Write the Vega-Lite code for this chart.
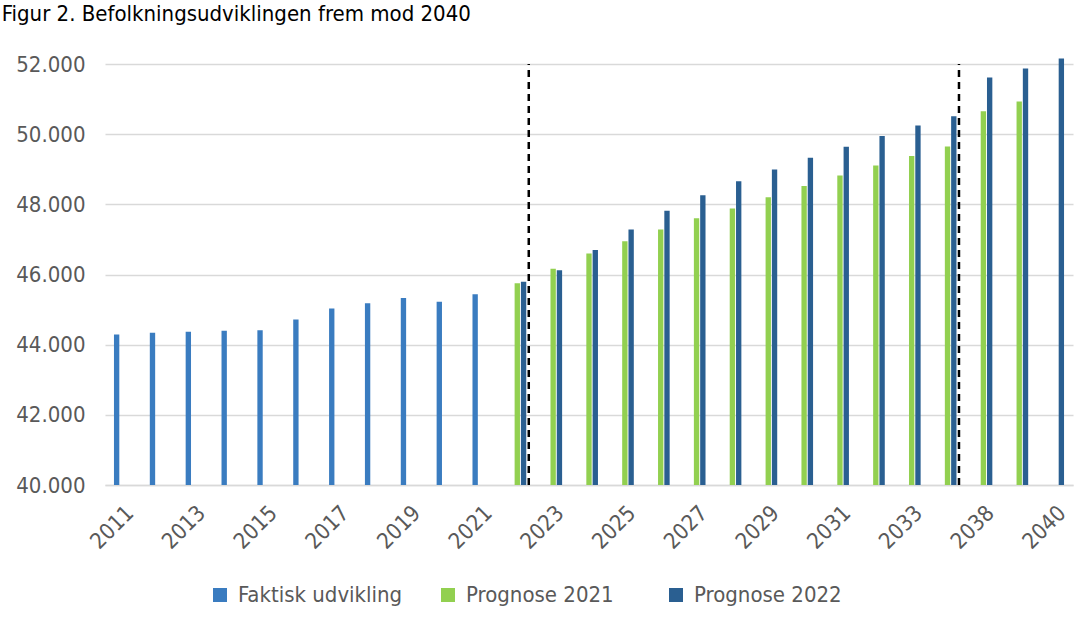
{
  "$schema": "https://vega.github.io/schema/vega-lite/v6.json",
  "autosize": "none",
  "width": 968,
  "height": 421,
  "padding": {"left": 105, "top": 64, "right": 6, "bottom": 143},
  "background": "white",
  "title": {
    "text": "Figur 2. Befolkningsudviklingen frem mod 2040",
    "anchor": "start",
    "frame": "bounds",
    "fontSize": 22,
    "fontWeight": "normal",
    "font": "DejaVu Sans Condensed, Liberation Sans, sans-serif",
    "color": "#000000",
    "baseline": "alphabetic",
    "offset": 10,
    "dx": -14
  },
  "config": {
    "font": "DejaVu Sans Condensed, Liberation Sans, sans-serif",
    "view": {"stroke": null}
  },
  "datasets": {
    "pop": [
      {"year": "2011", "series": "Faktisk udvikling", "value": 44293},
      {"year": "2012", "series": "Faktisk udvikling", "value": 44340},
      {"year": "2013", "series": "Faktisk udvikling", "value": 44370},
      {"year": "2014", "series": "Faktisk udvikling", "value": 44400},
      {"year": "2015", "series": "Faktisk udvikling", "value": 44410},
      {"year": "2016", "series": "Faktisk udvikling", "value": 44720},
      {"year": "2017", "series": "Faktisk udvikling", "value": 45030},
      {"year": "2018", "series": "Faktisk udvikling", "value": 45180},
      {"year": "2019", "series": "Faktisk udvikling", "value": 45330},
      {"year": "2020", "series": "Faktisk udvikling", "value": 45220},
      {"year": "2021", "series": "Faktisk udvikling", "value": 45440},
      {"year": "2022", "series": "Prognose 2021", "value": 45750},
      {"year": "2023", "series": "Prognose 2021", "value": 46165},
      {"year": "2024", "series": "Prognose 2021", "value": 46600},
      {"year": "2025", "series": "Prognose 2021", "value": 46950},
      {"year": "2026", "series": "Prognose 2021", "value": 47285},
      {"year": "2027", "series": "Prognose 2021", "value": 47600},
      {"year": "2028", "series": "Prognose 2021", "value": 47880},
      {"year": "2029", "series": "Prognose 2021", "value": 48200},
      {"year": "2030", "series": "Prognose 2021", "value": 48520},
      {"year": "2031", "series": "Prognose 2021", "value": 48820},
      {"year": "2032", "series": "Prognose 2021", "value": 49110},
      {"year": "2033", "series": "Prognose 2021", "value": 49380},
      {"year": "2034", "series": "Prognose 2021", "value": 49650},
      {"year": "2038", "series": "Prognose 2021", "value": 50655},
      {"year": "2039", "series": "Prognose 2021", "value": 50930},
      {"year": "2022", "series": "Prognose 2022", "value": 45790},
      {"year": "2023", "series": "Prognose 2022", "value": 46120},
      {"year": "2024", "series": "Prognose 2022", "value": 46700},
      {"year": "2025", "series": "Prognose 2022", "value": 47285},
      {"year": "2026", "series": "Prognose 2022", "value": 47820},
      {"year": "2027", "series": "Prognose 2022", "value": 48260},
      {"year": "2028", "series": "Prognose 2022", "value": 48660},
      {"year": "2029", "series": "Prognose 2022", "value": 48990},
      {"year": "2030", "series": "Prognose 2022", "value": 49330},
      {"year": "2031", "series": "Prognose 2022", "value": 49640},
      {"year": "2032", "series": "Prognose 2022", "value": 49950},
      {"year": "2033", "series": "Prognose 2022", "value": 50250},
      {"year": "2034", "series": "Prognose 2022", "value": 50510},
      {"year": "2038", "series": "Prognose 2022", "value": 51615},
      {"year": "2039", "series": "Prognose 2022", "value": 51870},
      {"year": "2040", "series": "Prognose 2022", "value": 52160}
    ],
    "dividers": [
      {"year": "2022"},
      {"year": "2034"}
    ]
  },
  "layer": [
    {
      "data": {"name": "pop"},
      "mark": {"type": "bar", "clip": false},
      "encoding": {
        "x": {
          "field": "year",
          "type": "ordinal",
          "sort": null,
          "scale": {
            "domain": ["2011","2012","2013","2014","2015","2016","2017","2018","2019","2020","2021","2022","2023","2024","2025","2026","2027","2028","2029","2030","2031","2032","2033","2034","2038","2039","2040"],
            "paddingInner": 0.5,
            "paddingOuter": 0.25
          },
          "axis": {
            "title": null,
            "values": ["2011","2013","2015","2017","2019","2021","2023","2025","2027","2029","2031","2033","2038","2040"],
            "labelAngle": -45,
            "labelAlign": "right",
            "labelBaseline": "top",
            "labelFontSize": 22,
            "labelColor": "#595959",
            "labelPadding": 17,
            "ticks": false,
            "domainColor": "#d9d9d9",
            "domainWidth": 1.5,
            "grid": false
          }
        },
        "xOffset": {
          "field": "series",
          "type": "nominal",
          "scale": {"domain": ["Faktisk udvikling", "Prognose 2021", "Prognose 2022"], "paddingInner": 0.15}
        },
        "y": {
          "field": "value",
          "type": "quantitative",
          "scale": {"domain": [40000, 52000], "zero": false, "nice": false},
          "axis": {
            "title": null,
            "values": [40000, 42000, 44000, 46000, 48000, 50000, 52000],
            "labelExpr": "replace(format(datum.value, ',.0f'), ',', '.')",
            "labelFontSize": 22,
            "labelColor": "#595959",
            "labelPadding": 20,
            "ticks": false,
            "domain": false,
            "gridColor": "#d9d9d9",
            "gridWidth": 1.5
          }
        },
        "y2": {"datum": 40000},
        "color": {
          "field": "series",
          "type": "nominal",
          "scale": {
            "domain": ["Faktisk udvikling", "Prognose 2021", "Prognose 2022"],
            "range": ["#3A7CC0", "#92D050", "#2A5F91"]
          },
          "legend": {
            "title": null,
            "orient": "none",
            "direction": "horizontal",
            "columns": 3,
            "gridAlign": "all",
            "legendX": 104,
            "legendY": 520,
            "symbolType": "square",
            "symbolSize": 196,
            "symbolStrokeWidth": 0,
            "labelFontSize": 22,
            "labelColor": "#595959",
            "labelOffset": 7,
            "labelLimit": 300,
            "columnPadding": 34
          }
        }
      }
    },
    {
      "data": {"name": "dividers"},
      "mark": {"type": "rule", "color": "#000000", "strokeWidth": 2.5, "strokeDash": [7, 5], "xOffset": 2.5},
      "encoding": {
        "x": {"field": "year", "type": "ordinal", "bandPosition": 1},
        "y": {"datum": 40000},
        "y2": {"datum": 52000}
      }
    }
  ]
}
